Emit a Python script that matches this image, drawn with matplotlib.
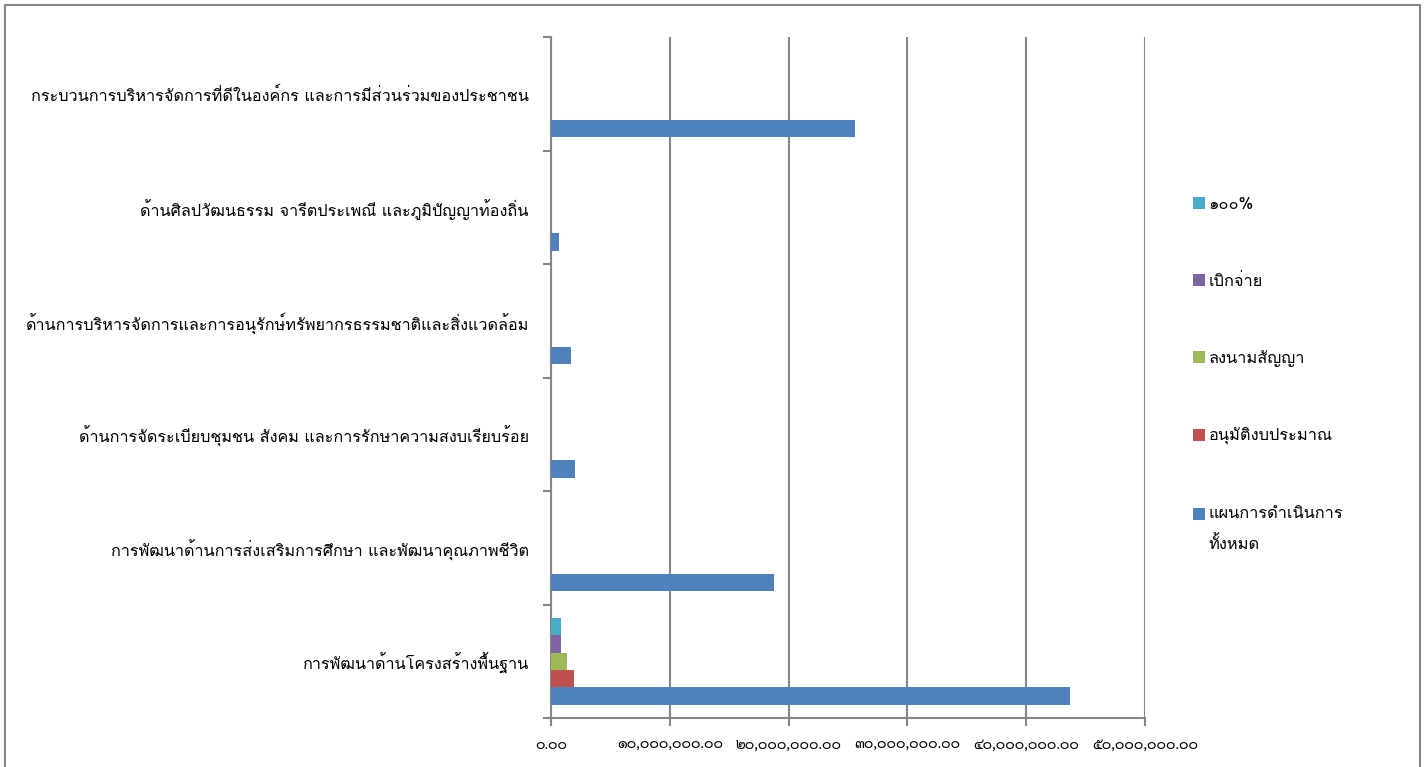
import numpy as np
import matplotlib.pyplot as plt
from matplotlib.patches import Rectangle
from matplotlib.ticker import FuncFormatter, FixedLocator

# Loma วางวรรณยุกต์ถูกตำแหน่งโดยไม่ต้องจัดรูปแบบข้อความ
plt.rcParams['font.family'] = ['Loma', 'Sarabun', 'DejaVu Sans']

# หมวดงาน (ล่างขึ้นบน)
หมวด = [
    "การพัฒนาด้านโครงสร้างพื้นฐาน",
    "การพัฒนาด้านการส่งเสริมการศึกษา และพัฒนาคุณภาพชีวิต",
    "ด้านการจัดระเบียบชุมชน สังคม และการรักษาความสงบเรียบร้อย",
    "ด้านการบริหารจัดการและการอนุรักษ์ทรัพยากรธรรมชาติและสิ่งแวดล้อม",
    "ด้านศิลปวัฒนธรรม จารีตประเพณี และภูมิปัญญาท้องถิ่น",
    "กระบวนการบริหารจัดการที่ดีในองค์กร และการมีส่วนร่วมของประชาชน",
]
ชื่อชุด = ["แผนการดำเนินการ\nทั้งหมด", "อนุมัติงบประมาณ", "ลงนามสัญญา", "เบิกจ่าย", "๑๐๐%"]
แผนทั้งหมด = [43_700_000, 18_800_000, 2_000_000, 1_700_000, 700_000, 25_600_000]
อนุมัติงบ = [1_950_000, 0, 0, 0, 0, 0]
ลงนามสัญญา = [1_350_000, 0, 0, 0, 0, 0]
เบิกจ่าย = [870_000, 0, 0, 0, 0, 0]
ร้อยเปอร์เซ็นต์ = [870_000, 0, 0, 0, 0, 0]
สี = ["#4F81BD", "#C0504D", "#9BBB59", "#8064A2", "#4BACC6"]

ชุดข้อมูล = [แผนทั้งหมด, อนุมัติงบ, ลงนามสัญญา, เบิกจ่าย, ร้อยเปอร์เซ็นต์]

fig = plt.figure(figsize=(14.26, 7.67), dpi=100)
ax = fig.add_axes([551 / 1426, 1 - 718 / 767, (1145 - 551) / 1426, (718 - 37) / 767])

y = np.arange(len(หมวด))
h = 0.153
for i, (vals, lab, c) in enumerate(zip(ชุดข้อมูล, ชื่อชุด, สี)):
    ax.barh(y + (i - 2) * h, vals, height=h, color=c, label=lab, zorder=3)

ax.set_xlim(0, 50_000_000)
ax.set_ylim(-0.5, len(หมวด) - 0.5)

# แกน x เป็นเลขไทย
เลขไทย = str.maketrans("0123456789", "๐๑๒๓๔๕๖๗๘๙")
ax.xaxis.set_major_locator(FixedLocator(np.arange(0, 50_000_001, 10_000_000)))
ax.xaxis.set_major_formatter(FuncFormatter(lambda v, p: f"{v:,.2f}".translate(เลขไทย)))
ax.tick_params(axis="x", length=6, width=1.5, color="#868686", pad=9)
for t in ax.get_xticklabels():
    t.set_fontfamily(["Sarabun", "DejaVu Sans"])
    t.set_fontsize(10.3)
ax.grid(axis="x", color="#868686", linewidth=1.5, zorder=0)

ax.yaxis.set_major_locator(FixedLocator(np.arange(-0.5, len(หมวด), 1.0)))
ax.yaxis.set_major_formatter(FuncFormatter(lambda v, p: ""))
ax.yaxis.set_minor_locator(FixedLocator(y - 0.005))
ax.yaxis.set_minor_formatter(FuncFormatter(lambda v, p: หมวด[int(round(v))]))
ax.tick_params(axis="y", which="major", length=6, width=1.5, color="#868686")
ax.tick_params(axis="y", which="minor", length=0, pad=16, labelsize=11.7)

for s in ["top", "right"]:
    ax.spines[s].set_visible(False)
for s in ["left", "bottom"]:
    ax.spines[s].set_color("#868686")
    ax.spines[s].set_linewidth(1.5)

h_leg, l_leg = ax.get_legend_handles_labels()
leg = fig.legend(h_leg[::-1], l_leg[::-1], loc="upper left", bbox_to_anchor=(1178 / 1426, 1 - 182 / 767),
                 frameon=False, fontsize=11.8, handlelength=0.75, handleheight=0.75, handletextpad=0.2,
                 labelspacing=3.7)
leg.get_texts()[-1].set_linespacing(2.1)
# สี่เหลี่ยมของรายการสุดท้ายให้ตรงกับบรรทัดแรก
p = leg.legend_handles[-1]
p.set_y(p.get_y() + 11.5)

# กรอบรอบแผนภูมิ
fig.patches.append(Rectangle((5 / 1426, -0.02), (1420 - 5) / 1426, 1.02 - 5 / 767,
                             transform=fig.transFigure, fill=False, edgecolor="#868686", linewidth=1.5))

fig.savefig("out.png", dpi=100)
